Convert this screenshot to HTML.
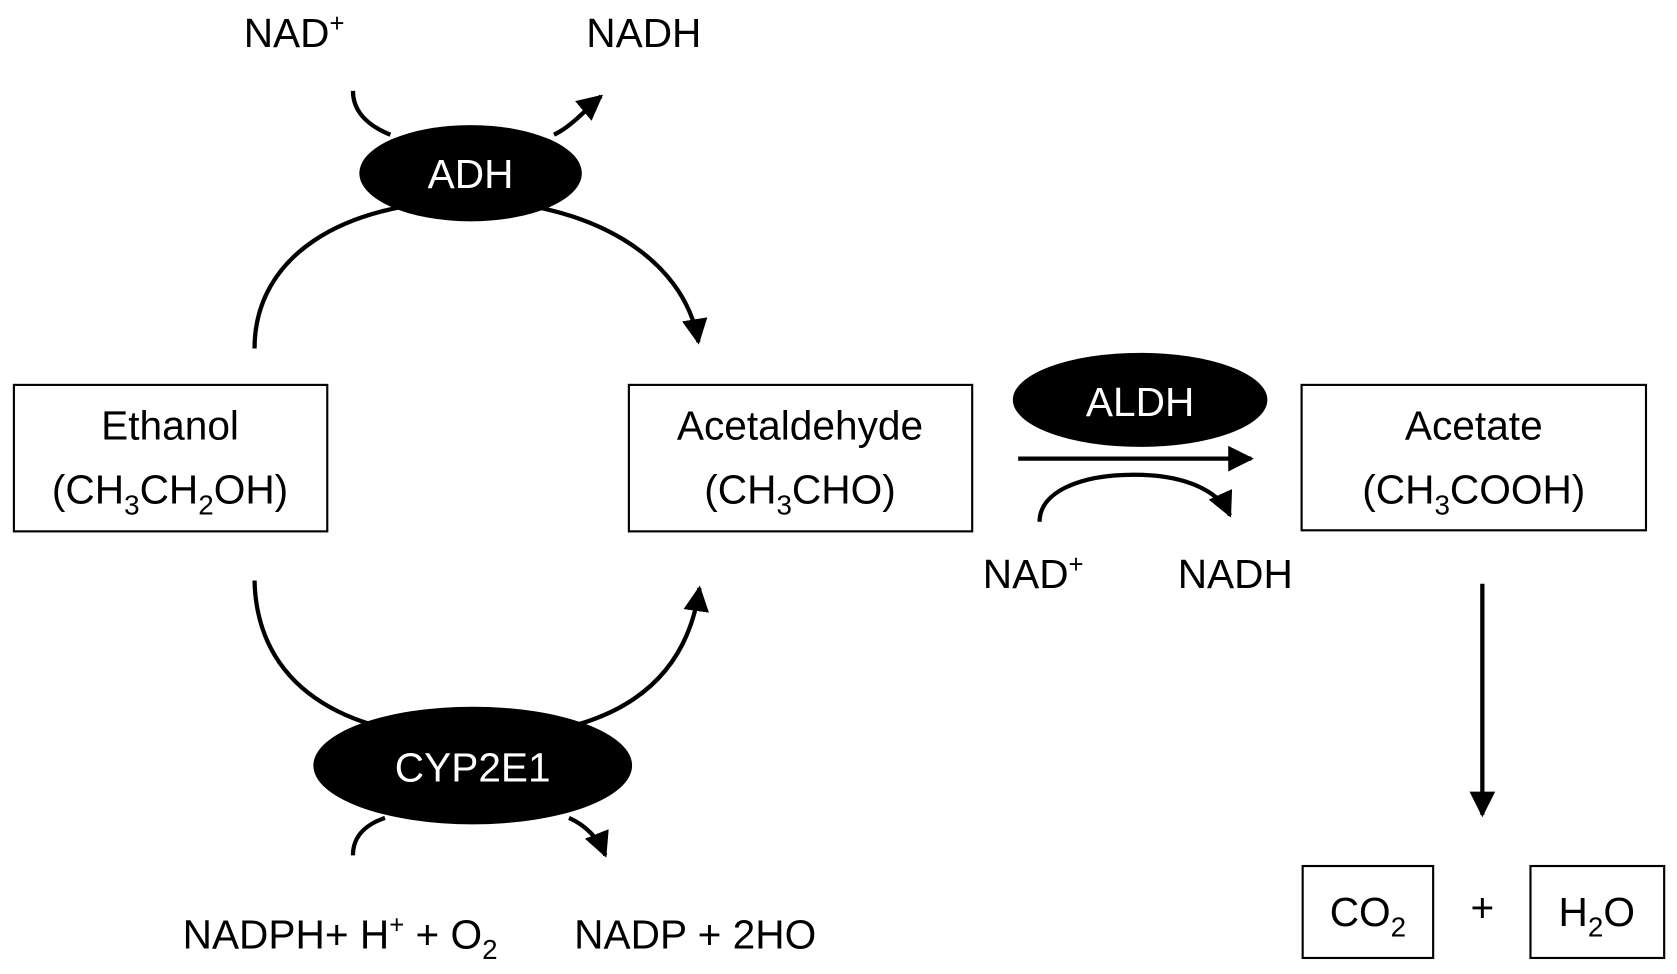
<!DOCTYPE html>
<html><head><meta charset="utf-8"><style>html,body{margin:0;padding:0;background:#fff}svg{display:block}</style></head>
<body>
<svg width="1677" height="974" viewBox="0 0 1568 911" preserveAspectRatio="none" xmlns="http://www.w3.org/2000/svg" font-family="Liberation Sans, sans-serif">
<defs>
<marker id="a" markerWidth="8" markerHeight="8" refX="6" refY="4" orient="auto" markerUnits="userSpaceOnUse" viewBox="0 0 8 8">
</marker>
<marker id="ah" viewBox="0 0 10 10" refX="9" refY="5" markerWidth="6" markerHeight="6" orient="auto"><path d="M0,0 L10,5 L0,10 z" fill="#000"/></marker>
</defs>
<g fill="none" stroke="#000" stroke-width="4">
<!-- top big arc -->
<path d="M238,326 C238,240 320,188 440,188 C550,188 640,240 653,320" marker-end="url(#ah)"/>
<!-- ADH small -->
<path d="M330,85 C330,105 345,118 365,126"/>
<path d="M518,126 C535,118 550,100 562,90" marker-end="url(#ah)"/>
<!-- bottom big arc -->
<path d="M238,543 C240,640 320,690 440,690 C560,690 640,650 654,550" marker-end="url(#ah)"/>
<!-- CYP small -->
<path d="M330,800 C330,780 345,770 360,765"/>
<path d="M532,765 C548,772 560,785 566,800" marker-end="url(#ah)"/>
<!-- ALDH -->
<path d="M952,429 L1170,429" marker-end="url(#ah)"/>
<path d="M972,488 C972,460 1010,444 1060,444 C1110,444 1140,460 1150,482" marker-end="url(#ah)"/>
<!-- vertical -->
<path d="M1386,546 L1386,762" marker-end="url(#ah)"/>
</g>
<g fill="#fff" stroke="#000" stroke-width="2">
<rect x="13" y="360" width="293" height="137"/>
<rect x="588" y="360" width="321" height="137"/>
<rect x="1217" y="360" width="322" height="136"/>
<rect x="1218" y="810" width="122" height="86"/>
<rect x="1431" y="810" width="125" height="86"/>
</g>
<ellipse cx="440" cy="162" rx="104" ry="45"/>
<ellipse cx="1066" cy="374" rx="119" ry="44"/>
<ellipse cx="442" cy="716" rx="149" ry="55"/>
<g font-size="38" text-anchor="middle" fill="#000">
<text x="159" y="411">Ethanol</text>
<text x="159" y="471">(CH<tspan font-size="26" dy="10">3</tspan><tspan dy="-10">CH</tspan><tspan font-size="26" dy="10">2</tspan><tspan dy="-10">OH)</tspan></text>
<text x="748" y="411">Acetaldehyde</text>
<text x="748" y="471">(CH<tspan font-size="26" dy="10">3</tspan><tspan dy="-10">CHO)</tspan></text>
<text x="1378" y="411">Acetate</text>
<text x="1378" y="471">(CH<tspan font-size="26" dy="10">3</tspan><tspan dy="-10">COOH)</tspan></text>
<text x="1279" y="866">CO<tspan font-size="26" dy="10">2</tspan></text>
<text x="1493" y="866">H<tspan font-size="26" dy="10">2</tspan><tspan dy="-10">O</tspan></text>
<text x="1386" y="862">+</text>
<text x="440" y="176" fill="#fff">ADH</text>
<text x="1066" y="389" fill="#fff">ALDH</text>
<text x="442" y="731" fill="#fff">CYP2E1</text>
<text x="275" y="44">NAD<tspan font-size="24" dy="-14">+</tspan></text>
<text x="602" y="44">NADH</text>
<text x="966" y="550">NAD<tspan font-size="24" dy="-14">+</tspan></text>
<text x="1155" y="550">NADH</text>
<text x="318" y="887">NADPH+ H<tspan font-size="24" dy="-14">+</tspan><tspan dy="14"> + O</tspan><tspan font-size="26" dy="10">2</tspan></text>
<text x="650" y="887">NADP + 2HO</text>
</g>
</svg>
</body></html>
